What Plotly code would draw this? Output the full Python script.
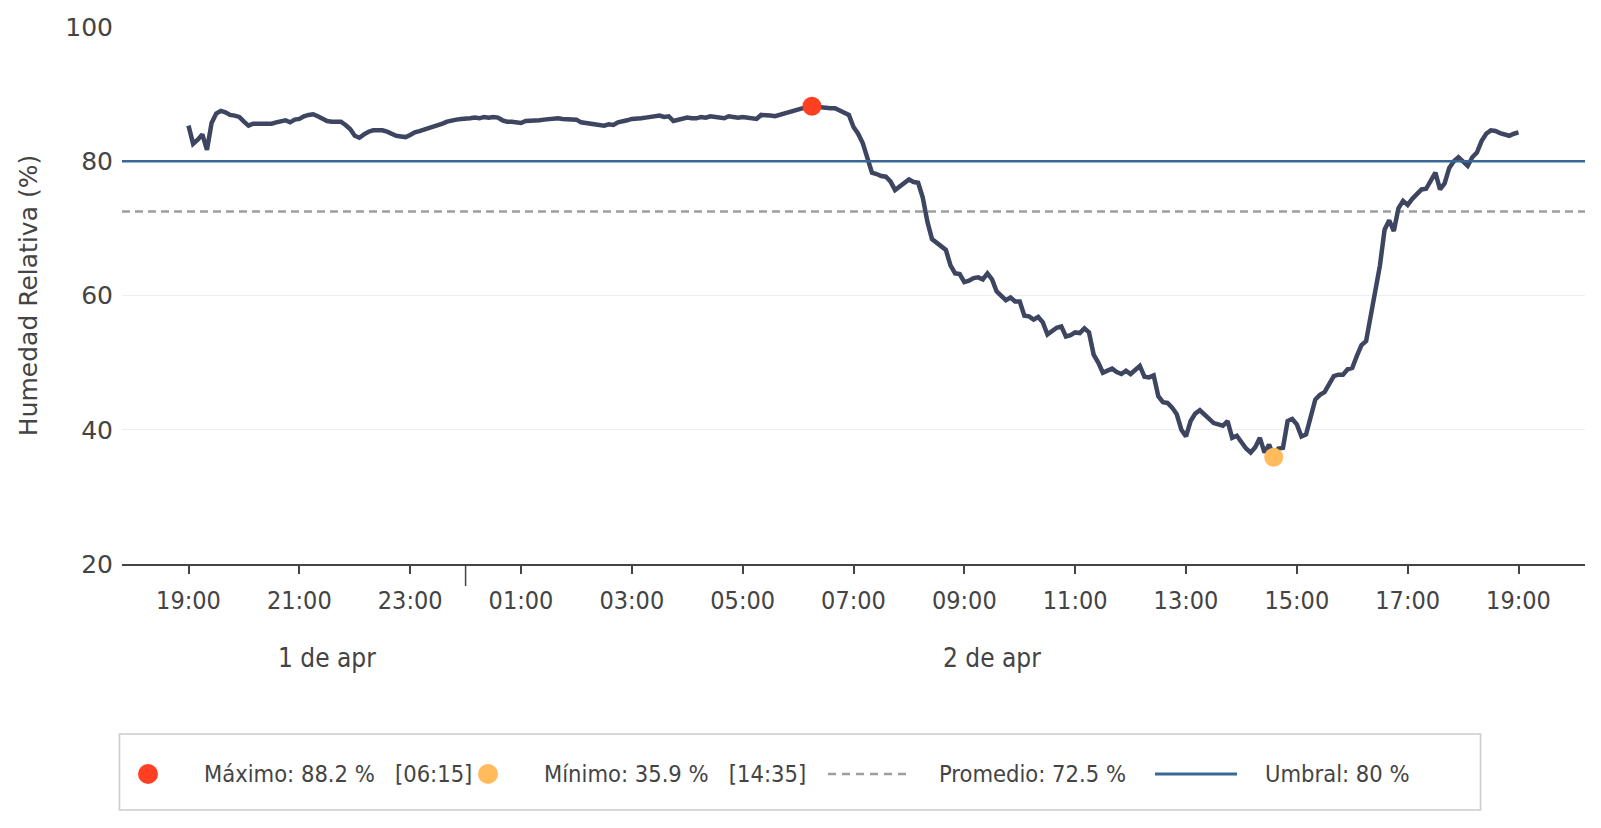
import pandas as pd
import plotly.graph_objects as go

# ---------------- data ----------------
START = "2024-04-01 19:00"
FREQ_MIN = 5
humidity = [
    # 19:00
    85.3, 82.6, 83.2, 84.0, 81.7, 85.7, 87.1, 87.5, 87.3, 86.9, 86.8, 86.6,
    # 20:00
    85.9, 85.3, 85.6, 85.6, 85.6, 85.6, 85.6, 85.8, 86.0, 86.1, 85.8, 86.2,
    # 21:00
    86.3, 86.7, 86.9, 87.0, 86.7, 86.3, 86.0, 85.9, 85.9, 85.9, 85.4, 84.8,
    # 22:00
    83.8, 83.5, 84.0, 84.4, 84.6, 84.6, 84.6, 84.4, 84.1, 83.8, 83.7, 83.6,
    # 23:00
    83.9, 84.3, 84.5, 84.7, 84.9, 85.1, 85.4, 85.6, 85.9, 86.1, 86.2, 86.3,
    # 00:00
    86.3, 86.4, 86.5, 86.4, 86.6, 86.5, 86.6, 86.5, 86.1, 85.9, 85.9, 85.8,
    # 01:00
    85.7, 86.0, 86.0, 86.1, 86.1, 86.2, 86.3, 86.4, 86.4, 86.3, 86.3, 86.2,
    # 02:00
    86.2, 85.8, 85.7, 85.5, 85.4, 85.3, 85.3, 85.5, 85.4, 85.8, 85.9, 86.1,
    # 03:00
    86.3, 86.3, 86.4, 86.5, 86.6, 86.7, 86.8, 86.6, 86.7, 86.0, 86.2, 86.4,
    # 04:00
    86.5, 86.4, 86.4, 86.6, 86.5, 86.7, 86.6, 86.6, 86.4, 86.7, 86.6, 86.5,
    # 05:00
    86.6, 86.5, 86.4, 86.3, 86.9, 86.9, 86.8, 86.7, 86.9, 87.1, 87.3, 87.6,
    # 06:00
    87.8, 88.0, 88.1, 88.2, 88.1, 88.1, 88.0, 87.9, 87.9, 87.6, 87.3, 86.9,
    # 07:00
    85.1, 84.1, 82.7, 80.5, 78.3, 78.1, 77.8, 77.7, 77.0, 75.7, 76.3, 76.9,
    # 08:00
    77.3, 76.9, 76.8, 74.6, 71.0, 68.4, 67.9, 67.5, 66.8, 64.5, 63.3, 63.2,
    # 09:00
    62.0, 62.2, 62.6, 62.7, 62.4, 63.3, 62.4, 60.6, 60.0, 59.3, 59.7, 59.1,
    # 10:00
    59.1, 57.0, 56.9, 56.4, 56.8, 56.0, 54.2, 54.8, 55.2, 55.4, 53.9, 54.1,
    # 11:00
    54.5, 54.4, 55.1, 54.5, 51.2, 50.0, 48.5, 48.8, 49.1, 48.6, 48.3, 48.8,
    # 12:00
    48.3, 48.9, 49.5, 47.9, 47.8, 48.1, 45.0, 44.1, 44.0, 43.3, 42.3, 40.0,
    # 13:00
    39.0, 41.3, 42.4, 42.9, 42.2, 41.5, 41.0, 40.8, 40.6, 41.3, 38.8, 39.1,
    # 14:00
    38.0, 37.2, 36.6, 37.4, 38.8, 36.6, 37.8, 35.9, 37.2, 37.3, 41.3, 41.6,
    # 15:00
    40.8, 39.0, 39.3, 42.0, 44.5, 45.2, 45.6, 46.8, 48.0, 48.2, 48.2, 49.0,
    # 16:00
    49.2, 51.0, 52.6, 53.2, 57.0, 61.5, 64.5, 69.8, 71.2, 69.6, 73.0, 74.1,
    # 17:00
    73.5, 74.4, 75.1, 75.8, 75.9, 77.0, 78.3, 75.8, 76.7, 79.0, 80.0, 80.6,
    # 18:00
    80.0, 79.3, 80.6, 81.3, 83.0, 84.1, 84.6, 84.5, 84.2, 84.0, 83.8, 84.1,
    # 19:00
    84.3,
]
AVG = 72.5
UMBRAL = 80
Y_TICKS = [20, 40, 60, 80, 100]
DAY_LABELS = ["1 de apr", "2 de apr"]
DAY_LABEL_POS = ["2024-04-01 21:30", "2024-04-02 09:30"]
MIDNIGHT = "2024-04-02 00:00"
X_RANGE = ["2024-04-01 17:48", "2024-04-02 20:12"]

times = pd.date_range(START, periods=len(humidity), freq=f"{FREQ_MIN}min")
s = pd.Series(humidity, index=times)
t_max, v_max = s.idxmax(), s.max()
t_min, v_min = s.idxmin(), s.min()

# ---------------- styles ----------------
LINE_C = "#3d4560"
MAX_C = "#ff3f22"
MIN_C = "#ffbb5c"
UMB_C = "#3a6796"
AVG_C = "#9e9e9e"
TXT = "#444444"
FONT = "DejaVu Sans, sans-serif"
FONT_C = "DejaVu Sans Condensed, DejaVu Sans, sans-serif"

OFF = 8  # page body margin
W, H = 1585, 812
ML, MR, MT, MB = 114, 8, 19, 256
PW, PH = W - ML - MR, H - MT - MB


def px(x):  # page pixel -> paper
    return (x - OFF - ML) / PW


def py(y):
    return (H - MB - (y - OFF)) / PH


fig = go.Figure()
fig.add_trace(go.Scatter(x=times, y=humidity, mode="lines", name="Humedad",
                         line=dict(color=LINE_C, width=4.5), showlegend=False,
                         hoverinfo="x+y"))
fig.add_trace(go.Scatter(x=[t_max], y=[v_max], mode="markers", name="Máximo",
                         marker=dict(color=MAX_C, size=19), showlegend=False))
fig.add_trace(go.Scatter(x=[t_min], y=[v_min], mode="markers", name="Mínimo",
                         marker=dict(color=MIN_C, size=19), showlegend=False))

shapes = [
    dict(type="line", xref="paper", yref="y", x0=0, x1=1, y0=AVG, y1=AVG,
         line=dict(color=AVG_C, width=2.5, dash="8px,5px"), layer="between"),
    dict(type="line", xref="paper", yref="y", x0=0, x1=1, y0=UMBRAL, y1=UMBRAL,
         line=dict(color=UMB_C, width=2.5), layer="above"),
    # longer day-separator tick
    dict(type="line", xref="x", yref="paper", x0=MIDNIGHT, x1=MIDNIGHT,
         y0=0, y1=-22 / PH, line=dict(color=TXT, width=1.5)),
    # legend box
    dict(type="rect", xref="paper", yref="paper", x0=px(119.5), x1=px(1480.5),
         y0=py(734), y1=py(810), line=dict(color="#cccccc", width=1.5),
         fillcolor="rgba(0,0,0,0)"),
]
LEG_Y = 774
for cx, col in [(148, MAX_C), (488, MIN_C)]:
    shapes.append(dict(type="circle", xref="paper", yref="paper",
                       xsizemode="pixel", ysizemode="pixel",
                       xanchor=px(cx), yanchor=py(LEG_Y),
                       x0=-10, x1=10, y0=-10, y1=10,
                       fillcolor=col, line=dict(width=0)))
shapes.append(dict(type="line", xref="paper", yref="paper", x0=px(828), x1=px(910),
                   y0=py(LEG_Y), y1=py(LEG_Y),
                   line=dict(color=AVG_C, width=2.5, dash="8px,6px")))
shapes.append(dict(type="line", xref="paper", yref="paper", x0=px(1155), x1=px(1237),
                   y0=py(LEG_Y), y1=py(LEG_Y), line=dict(color=UMB_C, width=3)))

sp = "\u00a0\u00a0\u00a0"
leg_items = [
    (202, f"Máximo: {v_max:.1f} %{sp}[{t_max:%H:%M}]"),
    (542, f"Mínimo: {v_min:.1f} %{sp}[{t_min:%H:%M}]"),
    (937, f"Promedio: {AVG} %"),
    (1263, f"Umbral: {UMBRAL} %"),
]
annotations = []
for x, t in leg_items:
    annotations.append(dict(text=t, xref="paper", yref="paper", x=px(x), y=py(LEG_Y),
                            xanchor="left", yanchor="middle", showarrow=False,
                            font=dict(family=FONT_C, size=23.5, color=TXT)))
for lab, pos in zip(DAY_LABELS, DAY_LABEL_POS):
    annotations.append(dict(text=lab, xref="x", yref="paper", x=pos, y=py(657.5),
                            xanchor="center", yanchor="middle", showarrow=False,
                            font=dict(family=FONT_C, size=26, color=TXT)))

fig.update_layout(
    width=W, height=H,
    margin=dict(l=ML, r=MR, t=MT, b=MB, autoexpand=False),
    paper_bgcolor="white", plot_bgcolor="white",
    shapes=shapes, annotations=annotations,
    showlegend=False,
    xaxis=dict(
        type="date", range=X_RANGE, tick0=START, dtick=2 * 3600 * 1000,
        tickformat="%H:%M", ticks="outside", ticklen=8, tickwidth=1.5,
        tickcolor=TXT, showline=True, linecolor=TXT, linewidth=1.5,
        showgrid=False, zeroline=False, ticklabelstandoff=5,
        tickfont=dict(family=FONT_C, size=25, color=TXT),
    ),
    yaxis=dict(
        range=[20, 100], tickvals=Y_TICKS, showgrid=True, gridcolor="#eeeeee",
        gridwidth=1, zeroline=False, showline=False, ticks="",
        ticklabelstandoff=8,
        tickfont=dict(family=FONT, size=25, color=TXT),
        title=dict(text="Humedad Relativa (%)", standoff=20,
                   font=dict(family=FONT, size=25, color=TXT)),
    ),
)

fig.write_html("out.html")
